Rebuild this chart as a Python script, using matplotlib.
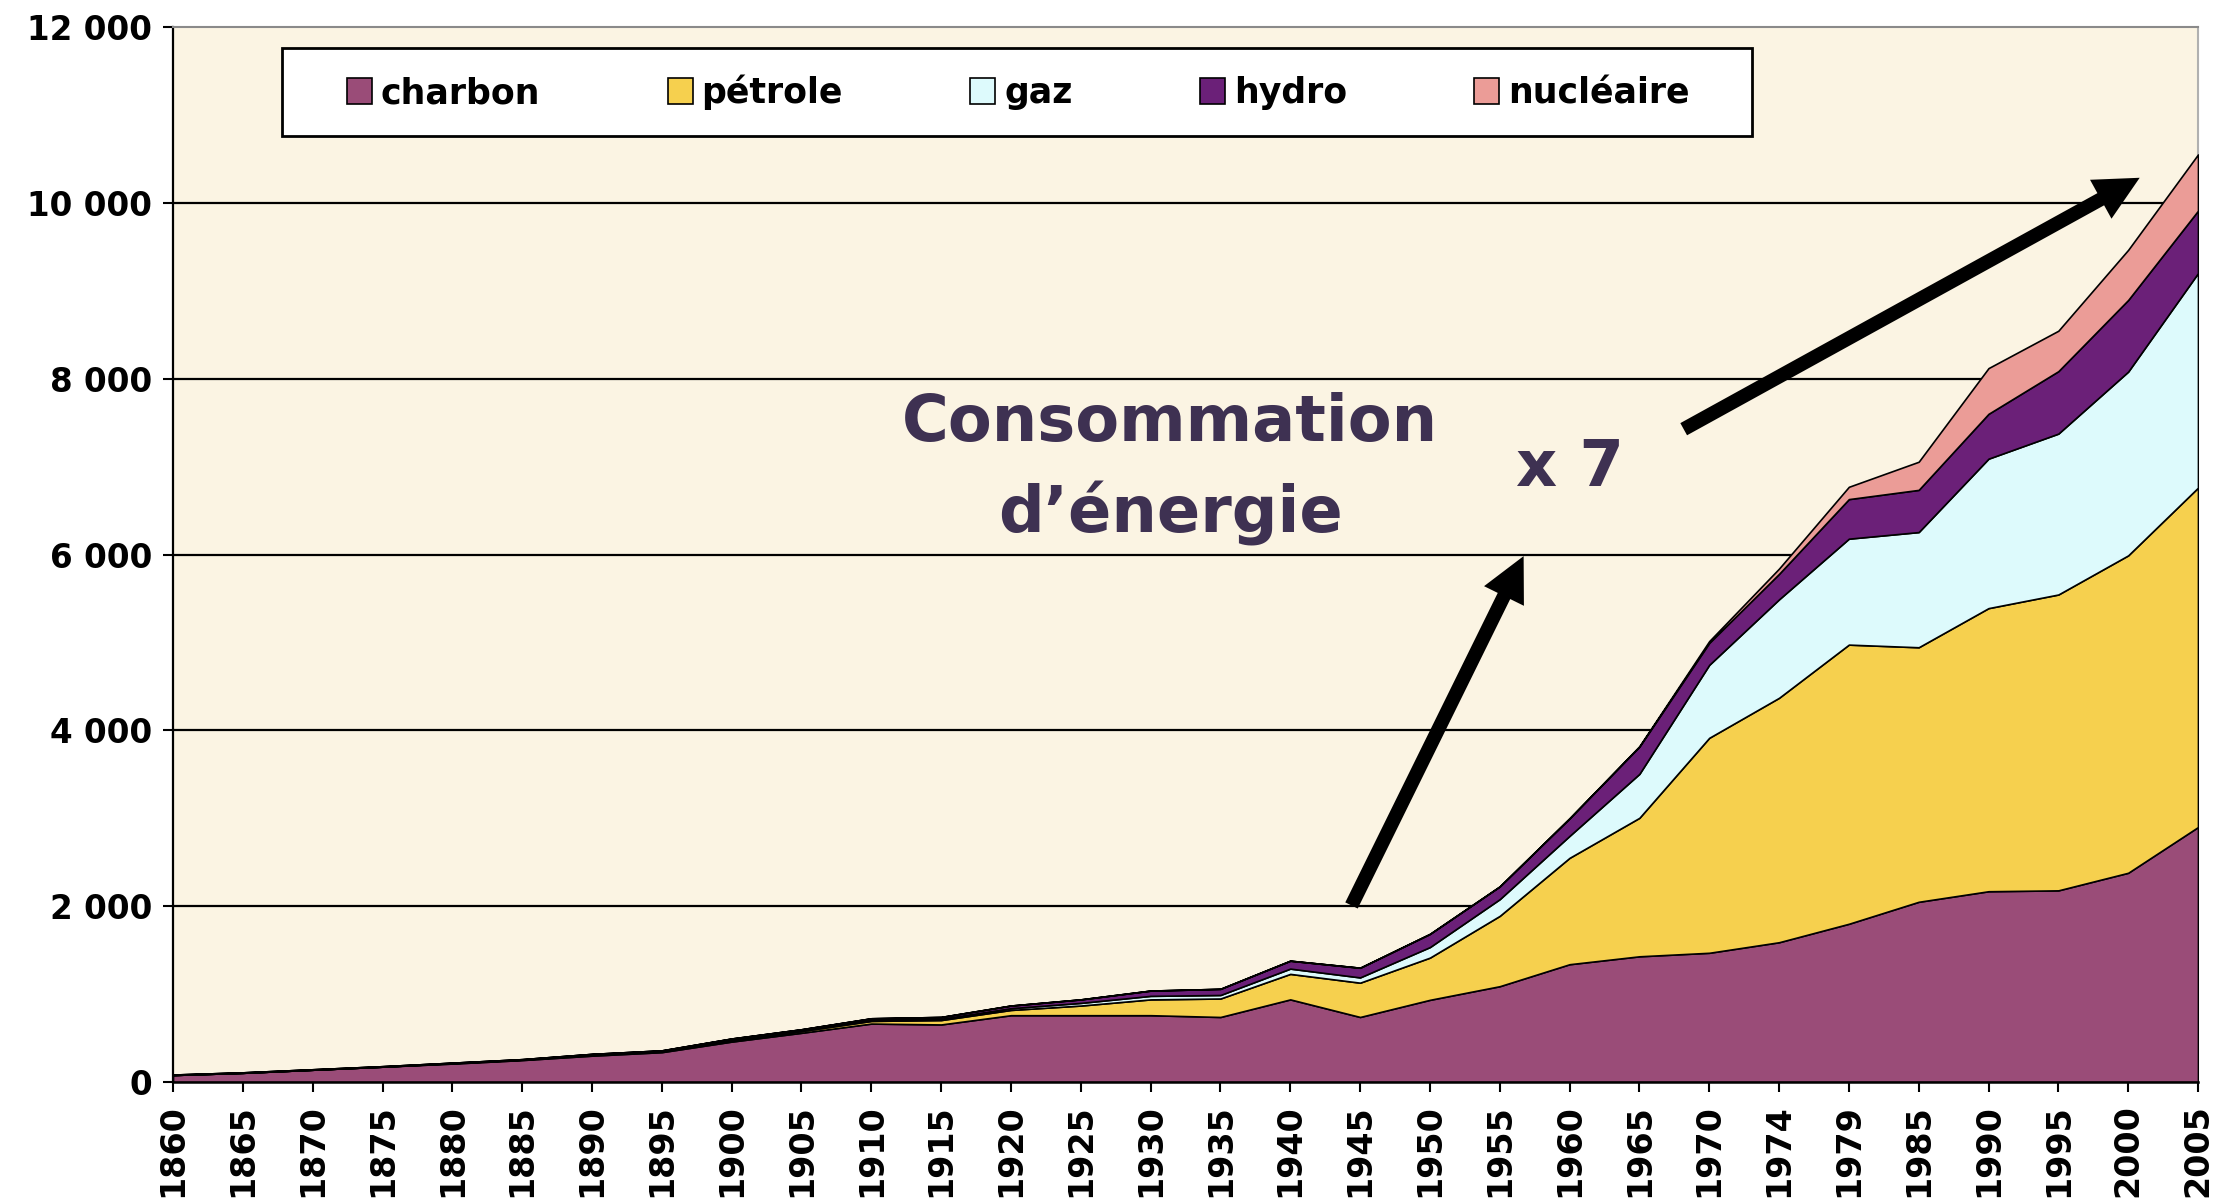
import numpy as np
import matplotlib
matplotlib.use("Agg")
import matplotlib.pyplot as plt
from matplotlib.patches import Patch, FancyArrowPatch, Rectangle

years = ["1860", "1865", "1870", "1875", "1880", "1885", "1890", "1895", "1900", "1905",
         "1910", "1915", "1920", "1925", "1930", "1935", "1940", "1945", "1950", "1955",
         "1960", "1965", "1970", "1974", "1979", "1985", "1990", "1995", "2000", "2005"]

charbon = [80, 105, 140, 175, 210, 250, 300, 340, 460, 560,
           665, 655, 760, 760, 760, 740, 940, 740, 935, 1090,
           1340, 1430, 1470, 1590, 1800, 2050, 2170, 2180, 2380, 2900]
petrole = [0, 0, 0, 0, 5, 5, 10, 10, 15, 20,
           30, 50, 60, 110, 180, 210, 290, 390, 480, 800,
           1210, 1575, 2445, 2780, 3175, 2895, 3220, 3365, 3610, 3860]
gaz = [0, 0, 0, 0, 0, 0, 5, 5, 10, 10,
       15, 15, 20, 30, 40, 40, 60, 60, 120, 190,
       250, 500, 830, 1120, 1205, 1310, 1700, 1830, 2090, 2440]
hydro = [5, 5, 5, 5, 5, 5, 5, 5, 10, 10,
         15, 20, 30, 40, 60, 70, 90, 110, 150, 145,
         200, 310, 250, 290, 450, 480, 510, 710, 815, 710]
nucleaire = [0, 0, 0, 0, 0, 0, 0, 0, 0, 0,
             0, 0, 0, 0, 0, 0, 0, 0, 0, 0,
             0, 5, 20, 60, 140, 320, 520, 460, 570, 640]

series_names = ["charbon", "pétrole", "gaz", "hydro", "nucléaire"]
colors = ["#9A4C78", "#F6D04E", "#DDFAFC", "#6B2078", "#EB9C97"]
yticks = [0, 2000, 4000, 6000, 8000, 10000, 12000]
ytick_labels = ["0", "2 000", "4 000", "6 000", "8 000", "10 000", "12 000"]

plt.rcParams['font.family'] = ['DejaVu Sans']

fig = plt.figure(figsize=(22.24, 12.04), dpi=100)
fig.patch.set_facecolor("white")
ax = fig.add_axes([0.0778, 0.1013, 0.9105, 0.8763])
ax.set_facecolor("#FBF4E3")

x = np.arange(len(years))
ax.stackplot(x, charbon, petrole, gaz, hydro, nucleaire, colors=colors,
             edgecolor="black", linewidth=1.2, zorder=3)

ax.set_xlim(0, len(years) - 1)
ax.set_ylim(0, 12000)
ax.set_yticks(yticks)
ax.set_yticklabels(ytick_labels, fontsize=23.5, fontweight="bold")
ax.set_xticks(x)
ax.set_xticklabels(years, rotation=90, fontsize=24, fontweight="bold")
ax.tick_params(axis="both", direction="out", length=7, width=1.5, color="black")
ax.tick_params(axis="y", pad=8)
ax.tick_params(axis="x", pad=9)

for yv in yticks[1:-1]:
    ax.axhline(yv, color="black", linewidth=1.6, zorder=1)

ax.spines["left"].set_color("black")
ax.spines["left"].set_linewidth(1.6)
ax.spines["bottom"].set_color("black")
ax.spines["bottom"].set_linewidth(1.8)
ax.spines["bottom"].set_zorder(5)
ax.spines["top"].set_color("#8a8a8a")
ax.spines["top"].set_linewidth(1.5)
ax.spines["right"].set_color("#b0b0b0")
ax.spines["right"].set_linewidth(1.5)

# legend frame
frame = Rectangle((0.0538, 0.897), 0.726, 0.083, transform=ax.transAxes,
                  facecolor="white", edgecolor="black", linewidth=2, zorder=6)
ax.add_patch(frame)

handles = [Patch(facecolor=c, edgecolor="black", linewidth=1.2) for c in colors]
leg = ax.legend(handles, series_names, loc="center",
                bbox_to_anchor=(0.0859, 0.918, 0.663, 0.04), mode="expand",
                ncol=5, frameon=False,
                prop={"size": 25, "weight": "bold"},
                handlelength=0.72, handleheight=0.8, handletextpad=0.25,
                borderpad=0, borderaxespad=0)
leg.set_zorder(7)

txt_color = "#3E3152"
ax.text(14.28, 7490, "Consommation", ha="center", va="center", fontsize=46,
        fontweight="bold", color=txt_color, zorder=7)
ax.text(14.28, 6470, "d\u2019énergie", ha="center", va="center", fontsize=46,
        fontweight="bold", color=txt_color, zorder=7)
ax.text(20.0, 6980, "x 7", ha="center", va="center", fontsize=46,
        fontweight="bold", color=txt_color, zorder=7)

style = "simple,head_length=1.6,head_width=1.6,tail_width=0.5"
for (x0, y0), (x1, y1) in [((16.86, 1980), (19.36, 6010)),
                           ((21.6, 7410), (28.2, 10300))]:
    arr = FancyArrowPatch((x0, y0), (x1, y1), arrowstyle=style,
                          mutation_scale=20, color="black", linewidth=0,
                          zorder=8)
    ax.add_patch(arr)

fig.savefig("out.png", dpi=100, facecolor="white")
